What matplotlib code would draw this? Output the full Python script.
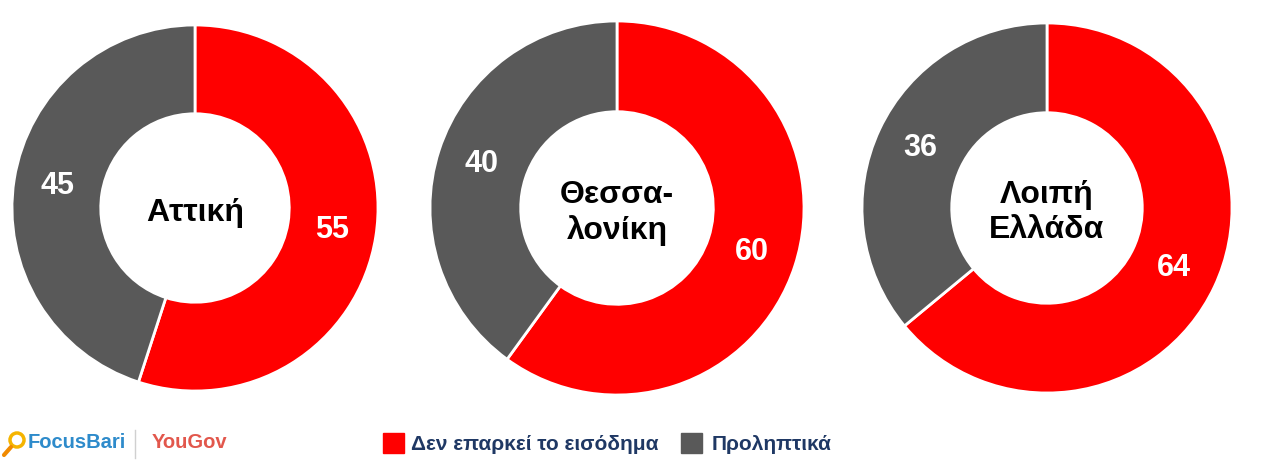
import matplotlib
matplotlib.use("Agg")
import matplotlib.pyplot as plt
from matplotlib.patches import Rectangle, Circle
from matplotlib.lines import Line2D

plt.rcParams['font.family'] = ['Liberation Sans', 'DejaVu Sans']

regions = ["Αττική", "Θεσσα-\nλονίκη", "Λοιπή\nΕλλάδα"]
not_enough = [55, 60, 64]
preventive = [45, 40, 36]
legend_labels = ["Δεν επαρκεί το εισόδημα", "Προληπτικά"]
colors = ["#FF0000", "#595959"]

W, H = 1270, 470
fig = plt.figure(figsize=(W / 100, H / 100), dpi=100)

# pixel centres / radii of the donuts
centers = [(195, 208, 183), (617, 208, 187), (1047, 208, 185)]

for (cx, cy, r), name, a, b in zip(centers, regions, not_enough, preventive):
    ax = fig.add_axes([(cx - r) / W, (H - cy - r) / H, 2 * r / W, 2 * r / H])
    wedges, texts, autotexts = ax.pie(
        [a, b], colors=colors, startangle=90, counterclock=False,
        radius=1.0, autopct=lambda p: f"{p:.0f}", pctdistance=0.76,
        wedgeprops=dict(width=0.485, edgecolor="white", linewidth=2),
        textprops=dict(color="white", fontsize=22, fontweight="bold"))
    ax.set_xlim(-1, 1)
    ax.set_ylim(-1, 1)
    ax.set_aspect("equal")
    ax.axis("off")
    ax.text(0, -0.025, name, ha="center", va="center", fontsize=23,
            fontweight="bold", color="black", linespacing=1.2)

# legend & logos in figure pixel coordinates
lax = fig.add_axes([0, 0, 1, 1])
lax.set_xlim(0, W)
lax.set_ylim(H, 0)
lax.axis("off")
lax.add_patch(Rectangle((383, 433), 21, 20, color=colors[0]))
lax.text(411, 444, legend_labels[0], ha="left", va="center", fontsize=15,
         fontweight="bold", color="#1F3864")
lax.add_patch(Rectangle((681, 433), 21, 20, color=colors[1]))
lax.text(712, 444, legend_labels[1], ha="left", va="center", fontsize=15,
         fontweight="bold", color="#1F3864")

# FocusBari logo
lax.add_patch(Circle((17, 440), 7, fill=False, edgecolor="#F5B400", linewidth=2.5))
lax.add_line(Line2D([4, 11], [455, 447], color="#F08A00", linewidth=3, solid_capstyle="round"))
lax.text(28, 443, "FocusBari", ha="left", va="center", fontsize=14.5,
         fontweight="bold", color="#2E8BCB")
lax.add_line(Line2D([135, 135], [430, 458], color="#D0D0D0", linewidth=1))
lax.text(152, 443, "YouGov", ha="left", va="center", fontsize=14.5,
         fontweight="bold", color="#E2574C")

fig.savefig("out.png", dpi=100, facecolor="white")
